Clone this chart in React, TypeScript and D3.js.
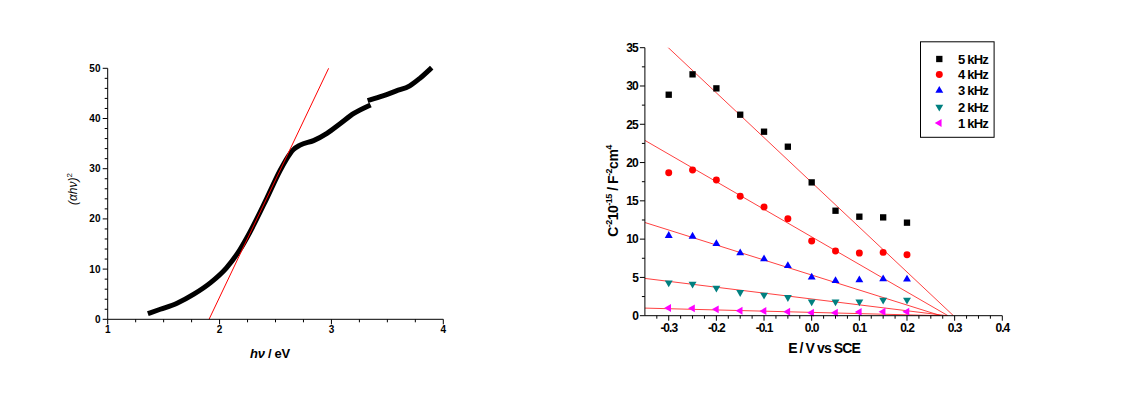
import React from "react";
import * as d3 from "d3";

// ---------- Left chart data: (αhν)² vs hν ----------
const absEnergyA = [1.38, 1.47, 1.62, 1.77, 1.92, 2.06, 2.18, 2.27, 2.42, 2.54, 2.63, 2.66, 2.72, 2.84, 2.96, 3.08, 3.2, 3.33];
const absValueA = [1.3, 2.0, 3.2, 5.0, 7.3, 10.2, 13.8, 17.3, 24.0, 29.6, 33.0, 33.8, 34.7, 35.6, 37.05, 39.0, 41.0, 42.5];
const absEnergyB = [3.345, 3.46, 3.58, 3.7, 3.79, 3.88];
const absValueB = [43.7, 44.5, 45.5, 46.5, 48.0, 49.8];
const tangentX = [1.906, 2.975];
const tangentY = [0, 50];
const leftXTicks = [1, 2, 3, 4];
const leftYTicks = [0, 10, 20, 30, 40, 50];

// ---------- Right chart data: Mott–Schottky ----------
const potentials = [-0.3, -0.25, -0.2, -0.15, -0.1, -0.05, 0.0, 0.05, 0.1, 0.15, 0.2];
const seriesNames = ["5 kHz", "4 kHz", "3 kHz", "2 kHz", "1 kHz"];
const s5k = [28.86, 31.52, 29.69, 26.25, 24.03, 22.07, 17.41, 13.71, 12.93, 12.84, 12.15];
const s4k = [18.68, 19.02, 17.72, 15.59, 14.19, 12.67, 9.75, 8.45, 8.18, 8.27, 7.97];
const s3k = [10.45, 10.36, 9.4, 8.18, 7.4, 6.53, 5.01, 4.57, 4.66, 4.79, 4.75];
const s2k = [4.31, 4.14, 3.61, 3.05, 2.7, 2.39, 1.83, 1.83, 1.83, 2.05, 2.05];
const s1k = [1.0, 0.96, 0.83, 0.65, 0.61, 0.52, 0.39, 0.39, 0.48, 0.52, 0.52];
// linear fits: value = slope * (flatband - E)
const fitSlopes = [58.5, 36.0, 19.6, 7.68, 1.6];
const fitFlatband = [0.2975, 0.286, 0.271, 0.284, 0.27];
const rightXTicks = [-0.3, -0.2, -0.1, 0.0, 0.1, 0.2, 0.3, 0.4];
const rightXTickLabels = ["-0.3", "-0.2", "-0.1", "0.0", "0.1", "0.2", "0.3", "0.4"];
const rightYTicks = [0, 5, 10, 15, 20, 25, 30, 35];

const seriesColors = ["#000000", "#ff0000", "#0000ff", "#008080", "#ff00ff"];

const FONT = "'Liberation Sans', Arial, Helvetica, sans-serif";

export default function App() {
  // Left scales
  const lx = d3.scaleLinear().domain([1, 4]).range([107.7, 443.3]);
  const ly = d3.scaleLinear().domain([0, 50]).range([319.3, 68.3]);
  // Right scales
  const rx = d3.scaleLinear().domain([-0.35, 0.4]).range([644.9, 1002.3]);
  const ry = d3.scaleLinear().domain([0, 35]).range([315.7, 47.7]);

  const curveLine = d3
    .line<[number, number]>()
    .x((d) => lx(d[0]))
    .y((d) => ly(d[1]))
    .curve(d3.curveMonotoneX);
  const segA = absEnergyA.map((e, i) => [e, absValueA[i]] as [number, number]);
  const segB = absEnergyB.map((e, i) => [e, absValueB[i]] as [number, number]);

  const lxMinor = d3.range(1, 4.0001, 0.25).filter((v) => Math.abs(v - Math.round(v)) > 1e-6);
  const lyMinor = d3.range(0, 50.0001, 2).filter((v) => v % 10 !== 0);
  const rxMinor = d3
    .range(-0.325, 0.4001, 0.025)
    .filter((v) => Math.abs(v * 10 - Math.round(v * 10)) > 1e-6);
  const ryMinor = d3.range(2.5, 35, 5);

  const series = [s5k, s4k, s3k, s2k, s1k];
  const symbolTypes = [d3.symbolSquare, d3.symbolCircle, d3.symbolTriangle, d3.symbolTriangle, d3.symbolTriangle];
  const symbolSizes = [40, 38, 27, 27, 27];
  const symbolRot = [0, 0, 0, 180, -90];
  const symPath = (i: number) => d3.symbol().type(symbolTypes[i]).size(symbolSizes[i])() as string;

  const fitLine = d3
    .line<[number, number]>()
    .x((d) => rx(d[0]))
    .y((d) => ry(d[1]));

  const legendY = [59, 74.5, 90.5, 107, 123];

  return (
    <svg
      width={1122}
      height={401}
      style={{ position: "absolute", left: 0, top: 0, background: "#fff" }}
      fontFamily={FONT}
    >
      <defs>
        <clipPath id="rclip">
          <rect x={rx(-0.35)} y={ry(35)} width={rx(0.4) - rx(-0.35)} height={ry(0) - ry(35)} />
        </clipPath>
      </defs>

      {/* ================= LEFT CHART ================= */}
      <g>
        <path d={curveLine(segA) as string} fill="none" stroke="#000" strokeWidth={5} strokeLinecap="square" strokeLinejoin="round" />
        <path d={curveLine(segB) as string} fill="none" stroke="#000" strokeWidth={5} strokeLinecap="square" strokeLinejoin="round" />
        <line
          x1={lx(tangentX[0])}
          y1={ly(tangentY[0])}
          x2={lx(tangentX[1])}
          y2={ly(tangentY[1])}
          stroke="#ff0000"
          strokeWidth={1}
        />
        <line x1={lx(1)} y1={ly(0)} x2={lx(4)} y2={ly(0)} stroke="#000" strokeWidth={1} />
        <line x1={lx(1)} y1={ly(0)} x2={lx(1)} y2={ly(50)} stroke="#000" strokeWidth={1} />
        {leftXTicks.map((t) => (
          <g key={"lxt" + t}>
            <line x1={lx(t)} x2={lx(t)} y1={ly(0)} y2={ly(0) + 5} stroke="#000" />
            <text x={lx(t)} y={332.5} textAnchor="middle" fontSize={10} fontWeight="bold" fill="#000">
              {t}
            </text>
          </g>
        ))}
        {lxMinor.map((t) => (
          <line key={"lxm" + t} x1={lx(t)} x2={lx(t)} y1={ly(0)} y2={ly(0) + 3} stroke="#000" />
        ))}
        {leftYTicks.map((t) => (
          <g key={"lyt" + t}>
            <line x1={lx(1) - 5} x2={lx(1)} y1={ly(t)} y2={ly(t)} stroke="#000" />
            <text x={100.8} y={ly(t) + 3.5} textAnchor="end" fontSize={10} fontWeight="bold" fill="#000" letterSpacing={0.2}>
              {t}
            </text>
          </g>
        ))}
        {lyMinor.map((t) => (
          <line key={"lym" + t} x1={lx(1) - 3} x2={lx(1)} y1={ly(t)} y2={ly(t)} stroke="#000" />
        ))}
        <text x={270} y={358} textAnchor="middle" fontSize={13} fontWeight="bold" letterSpacing={-0.3} fill="#000">
          <tspan fontStyle="italic">hν</tspan> / eV
        </text>
        <text transform="rotate(-90)" x={-189} y={77} textAnchor="middle" fontSize={12} fill="#000">
          <tspan fontStyle="italic">(αhν)</tspan>
          <tspan fontSize={8} dy={-5}>2</tspan>
        </text>
      </g>

      {/* ================= RIGHT CHART ================= */}
      <g>
        <g clipPath="url(#rclip)">
          {fitSlopes.map((s, i) => (
            <path
              key={"fit" + i}
              d={fitLine([
                [-0.35, s * (fitFlatband[i] + 0.35)],
                [fitFlatband[i], 0],
              ]) as string}
              fill="none"
              stroke="#ff2020"
              strokeOpacity={0.85}
              strokeWidth={1}
            />
          ))}
        </g>
        {series.map((vals, si) =>
          vals.map((v, j) => (
            <path
              key={"m" + si + "-" + j}
              d={symPath(si)}
              transform={`translate(${rx(potentials[j])},${ry(v)}) rotate(${symbolRot[si]})`}
              fill={seriesColors[si]}
            />
          ))
        )}
        <line x1={rx(-0.35)} y1={ry(0)} x2={rx(0.4)} y2={ry(0)} stroke="#000" strokeWidth={1} />
        <line x1={rx(-0.35)} y1={ry(0)} x2={rx(-0.35)} y2={ry(35)} stroke="#000" strokeWidth={1} />
        {rightXTicks.map((t, i) => (
          <g key={"rxt" + i}>
            <line x1={rx(t)} x2={rx(t)} y1={ry(0)} y2={ry(0) + 5} stroke="#000" />
            <text x={rx(t)} y={331.8} textAnchor="middle" fontSize={12} fontWeight="bold" letterSpacing={-1}>
              {rightXTickLabels[i]}
            </text>
          </g>
        ))}
        {rxMinor.map((t, i) => (
          <line key={"rxm" + i} x1={rx(t)} x2={rx(t)} y1={ry(0)} y2={ry(0) + 3} stroke="#000" />
        ))}
        {rightYTicks.map((t) => (
          <g key={"ryt" + t}>
            <line x1={rx(-0.35) - 5} x2={rx(-0.35)} y1={ry(t)} y2={ry(t)} stroke="#000" />
            <text x={638} y={ry(t) + 4.3} textAnchor="end" fontSize={12} fontWeight="bold" letterSpacing={-0.8}>
              {t}
            </text>
          </g>
        ))}
        {ryMinor.map((t) => (
          <line key={"rym" + t} x1={rx(-0.35) - 3} x2={rx(-0.35)} y1={ry(t)} y2={ry(t)} stroke="#000" />
        ))}
        <text x={824} y={352.5} textAnchor="middle" fontSize={14} fontWeight="bold" letterSpacing={-0.9}>
          E / V vs SCE
        </text>
        <text transform="rotate(-90)" x={-191} y={618} textAnchor="middle" fontSize={14} fontWeight="bold" letterSpacing={-0.5}>
          C<tspan fontSize={9} dy={-6}>-2</tspan>
          <tspan dy={6}>10</tspan>
          <tspan fontSize={9} dy={-6}>-15</tspan>
          <tspan dy={6}> / F</tspan>
          <tspan fontSize={9} dy={-6}>-2</tspan>
          <tspan dy={6}>cm</tspan>
          <tspan fontSize={9} dy={-6}>4</tspan>
        </text>
        <rect x={920.5} y={41.8} width={73.6} height={95.5} fill="#fff" stroke="#000" strokeWidth={1} />
        {seriesNames.map((n, i) => (
          <g key={"lg" + i}>
            <path d={symPath(i)} transform={`translate(939.3,${legendY[i]}) rotate(${symbolRot[i]})`} fill={seriesColors[i]} />
            <text x={958} y={legendY[i] + 4.6} fontSize={13} fontWeight="bold" letterSpacing={-0.8}>
              {n}
            </text>
          </g>
        ))}
      </g>
    </svg>
  );
}
